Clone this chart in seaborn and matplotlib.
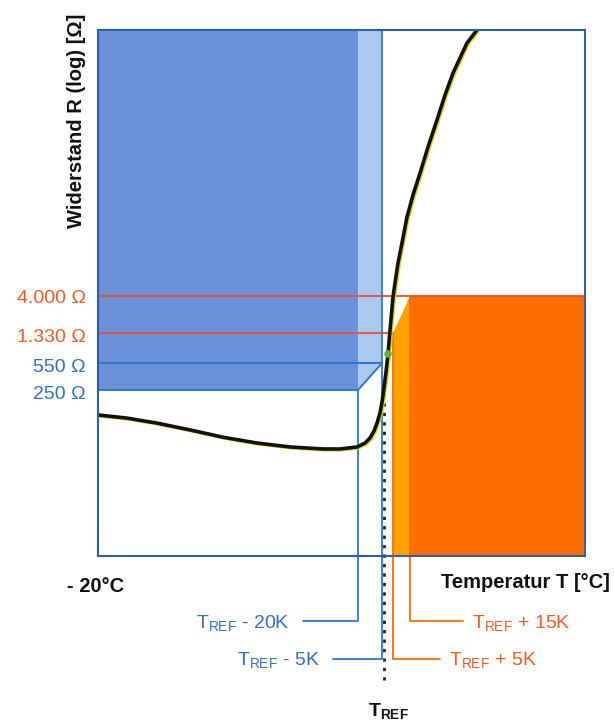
import numpy as np
import pandas as pd
import matplotlib
matplotlib.use('Agg')
import matplotlib.pyplot as plt
import matplotlib.transforms as mtransforms
import matplotlib.patheffects as pe
import seaborn as sns

# ── Data (schematic temperature axis, log resistance axis) ───────────────────
# x: schematic temperature position (0 = -20 °C at left edge of the box)
X_LIM = (0, 487)
R_LIM = (1.86, 1.03e7)

t_ref     = 286
t_ref_m20 = 260
t_ref_m5  = 284
t_ref_p5  = 295
t_ref_p15 = 312

r_250, r_550, r_1330, r_4000 = 250, 550, 1330, 4000

curve_t = [0, 29, 59, 92, 125, 159, 192, 225, 242, 259, 267, 272, 276, 279,
           282, 284, 286, 288, 290, 292, 295, 297, 300, 304, 309, 315, 322,
           330, 339, 347, 355, 369, 379]
curve_r = [119.5, 109, 94, 76.9, 62, 52.2, 46.5, 43.8, 43.8, 46.5, 52.2, 60.6,
           74.6, 94, 127, 175, 265, 425, 724, 1468, 3880, 5880, 10600, 19200,
           41300, 79000, 150000, 326000, 724000, 1.51e6, 2.88e6, 7.03e6, 1.03e7]

ref_point_t = [290]
ref_point_r = [724]

# ── Style ────────────────────────────────────────────────────────────────────
sns.set_theme(style='white')
plt.rcParams['font.family'] = ['Liberation Sans', 'DejaVu Sans']
plt.rcParams['mathtext.fontset'] = 'custom'
plt.rcParams['mathtext.rm'] = 'Liberation Sans'
plt.rcParams['mathtext.bf'] = 'Liberation Sans:bold'

FRAME = '#2d5fae'
BLUE_DARK = '#6b92d8'
BLUE_LIGHT = '#aac9ee'
BLUE_LINE = '#2f74d0'
BLUE_TXT = '#2e6fc4'
ORANGE = '#ff6e00'
ORANGE_LIGHT = '#ffa200'
RED_LINE = '#f04a30'
ORANGE_TXT = '#f45a22'

W, H = 614, 725
fig = plt.figure(figsize=(W / 100, H / 100), dpi=100)
ax = fig.add_axes([98 / W, (H - 556) / H, 487 / W, 526 / H])
ax.set_yscale('log')
ax.set_xlim(*X_LIM)
ax.set_ylim(*R_LIM)
ax.set_xticks([]); ax.set_yticks([]); ax.minorticks_off()
for s in ax.spines.values():
    s.set_color(FRAME); s.set_linewidth(1.5); s.set_zorder(10)

ytop = R_LIM[1]; ybot = R_LIM[0]

# ── Blue block ──────────────────────────────────────────────────────────────
ax.fill_between([X_LIM[0], t_ref_m20], r_250, ytop, color=BLUE_DARK, lw=0, zorder=1)
ax.fill([t_ref_m20, t_ref_m5, t_ref_m5, t_ref_m20],
        [ytop, ytop, r_550, r_250], color=BLUE_LIGHT, lw=0, zorder=1)

# ── Orange block ────────────────────────────────────────────────────────────
ax.fill_between([t_ref_p15, X_LIM[1]], ybot, r_4000, color=ORANGE, lw=0, zorder=1)
ax.fill([t_ref_p5, t_ref_p15, t_ref_p15, t_ref_p5],
        [r_1330, r_4000, ybot, ybot], color=ORANGE_LIGHT, lw=0, zorder=1)

# ── Level lines ─────────────────────────────────────────────────────────────
ax.plot([X_LIM[0], X_LIM[1]], [r_4000, r_4000], color=RED_LINE, lw=1.3, zorder=3)
ax.plot([X_LIM[0], t_ref_p5], [r_1330, r_1330], color=RED_LINE, lw=1.3, zorder=3)
ax.plot([X_LIM[0], t_ref_m5], [r_550, r_550], color=BLUE_LINE, lw=1.4, zorder=3)
ax.plot([X_LIM[0], t_ref_m20, t_ref_m5], [r_250, r_250, r_550],
        color=BLUE_LINE, lw=1.4, zorder=3)

# ── Leader lines going below the box ────────────────────────────────────────
bt = mtransforms.blended_transform_factory(ax.transData, ax.transAxes)
def frac(py):
    return (556 - py) / 526

def rfrac(r):
    lo, hi = np.log10(R_LIM)
    return (np.log10(r) - lo) / (hi - lo)

ax.plot([t_ref_m20, t_ref_m20, t_ref_m20 - 55], [rfrac(r_250), frac(621), frac(621)],
        color=BLUE_LINE, lw=1.3, transform=bt, clip_on=False, zorder=3)
ax.plot([t_ref_m5, t_ref_m5, t_ref_m5 - 49], [1.0, frac(659), frac(659)],
        color=BLUE_LINE, lw=1.3, transform=bt, clip_on=False, zorder=3)
ax.plot([t_ref_p15, t_ref_p15, t_ref_p15 + 53], [rfrac(r_4000), frac(621), frac(621)],
        color=ORANGE, lw=1.3, transform=bt, clip_on=False, zorder=3)
ax.plot([t_ref_p5, t_ref_p5, t_ref_p5 + 47], [rfrac(r_1330), frac(659), frac(659)],
        color=ORANGE, lw=1.3, transform=bt, clip_on=False, zorder=3)
ax.plot([t_ref, t_ref], [rfrac(300), frac(680)], color='#222222', lw=2,
        ls=(0, (1.2, 2.2)), transform=bt, clip_on=False, zorder=4)

# ── PTC curve ───────────────────────────────────────────────────────────────
df = pd.DataFrame({'t': curve_t, 'r': curve_r})
sns.lineplot(data=df, x='t', y='r', ax=ax, color='#111111', lw=2.6, sort=False,
             zorder=6, solid_joinstyle='round',
             path_effects=[pe.SimpleLineShadow(offset=(0.9, -0.6), shadow_color='#d6d600',
                                               alpha=0.9), pe.Normal()])
sns.scatterplot(x=ref_point_t, y=ref_point_r, ax=ax, color='#5fb82a', s=30,
                edgecolor='none', zorder=7)
ax.set_xlabel(''); ax.set_ylabel('')

# ── Texts ───────────────────────────────────────────────────────────────────
def ftext(px, py, s, **kw):
    fig.text(px / W, 1 - py / H, s, **kw)

ftext(86, 298, '4.000 Ω', color=ORANGE_TXT, fontsize=14, ha='right', va='center')
ftext(86, 337, '1.330 Ω', color=ORANGE_TXT, fontsize=14, ha='right', va='center')
ftext(86, 367, '550 Ω', color=BLUE_TXT, fontsize=14, ha='right', va='center')
ftext(86, 394, '250 Ω', color=BLUE_TXT, fontsize=14, ha='right', va='center')

ftext(77, 121, 'Widerstand R (log) [Ω]', rotation=90, fontsize=14.5,
      fontweight='bold', ha='center', va='center', color='#111111')
ftext(96, 586, '- 20°C', fontsize=14.5, fontweight='bold', ha='center', va='center',
      color='#111111')
ftext(610, 583, 'Temperatur T [°C]', fontsize=14.5, fontweight='bold', ha='right',
      va='center', color='#111111')

TR = r'T$_{\mathrm{REF}}$'
ftext(290, 624, TR + ' - 20K', color=BLUE_TXT, fontsize=14, ha='right', va='center')
ftext(320, 661, TR + ' - 5K', color=BLUE_TXT, fontsize=14, ha='right', va='center')
ftext(472, 624, TR + ' + 15K', color=ORANGE_TXT, fontsize=14, ha='left', va='center')
ftext(449, 661, TR + ' + 5K', color=ORANGE_TXT, fontsize=14, ha='left', va='center')
ftext(388, 712, r'T$_{\mathbf{REF}}$', fontsize=14, fontweight='bold', ha='center',
      va='center', color='#111111')

fig.savefig('out.png', dpi=100, facecolor='white')
